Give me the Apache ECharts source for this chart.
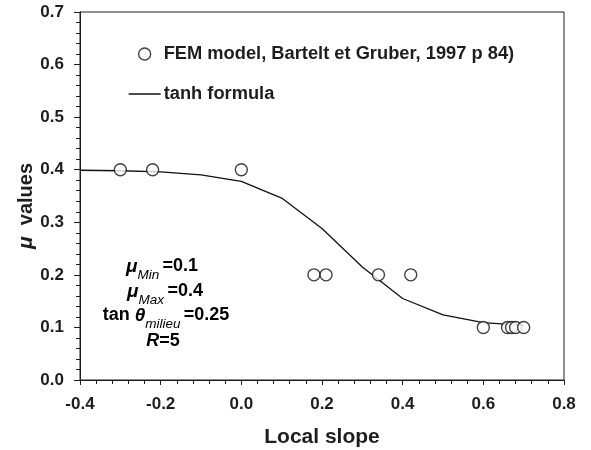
<!DOCTYPE html>
<html>
<head>
<meta charset="utf-8">
<script src="https://cdn.jsdelivr.net/npm/echarts@6/dist/echarts.min.js"></script>
<style>html,body{margin:0;padding:0;background:#fff;}#c{width:591px;height:450px;}</style>
</head>
<body>
<div id="c"></div>
<script>
// Data
var femSlope = [-0.30, -0.22, 0.00, 0.18, 0.21, 0.34, 0.42, 0.60, 0.66, 0.67, 0.68, 0.70];
var femMu    = [0.40, 0.40, 0.40, 0.20, 0.20, 0.20, 0.20, 0.10, 0.10, 0.10, 0.10, 0.10];
var tanhSlope = [-0.4, -0.3, -0.2, -0.1, 0.0, 0.1, 0.2, 0.3, 0.4, 0.5, 0.6, 0.7];
var tanhMu    = [0.399, 0.398, 0.396, 0.390, 0.378, 0.346, 0.288, 0.215, 0.155, 0.124, 0.109, 0.104];
var xTicks = [-0.4, -0.2, 0.0, 0.2, 0.4, 0.6, 0.8];
var yTicks = [0.0, 0.1, 0.2, 0.3, 0.4, 0.5, 0.6, 0.7];
var seriesNames = ['FEM model, Bartelt et Gruber, 1997 p 84)', 'tanh formula'];

var FONT = '"Liberation Sans", Arial, Helvetica, sans-serif';
var INK = '#1e1e1e';

function zip(a, b) { return a.map(function (v, i) { return [v, b[i]]; }); }

var chart = echarts.init(document.getElementById('c'), null, { renderer: 'canvas' });

var rich = {
  m: { fontFamily: FONT, fontWeight: 'bold', fontStyle: 'italic', fontSize: 19, color: INK, lineHeight: 22, verticalAlign: 'top' },
  s: { fontFamily: FONT, fontStyle: 'italic', fontSize: 13.5, color: INK, lineHeight: 25, verticalAlign: 'bottom' },
  b: { fontFamily: FONT, fontWeight: 'bold', fontSize: 18, color: INK, lineHeight: 22, verticalAlign: 'top' },
  bi: { fontFamily: FONT, fontWeight: 'bold', fontStyle: 'italic', fontSize: 18, color: INK, lineHeight: 22, verticalAlign: 'top' }
};
var lines = [
  ['{m|μ}{s|Min} {b|=0.1}', 162, 257],
  ['{m|μ}{s|Max} {b|=0.4}', 165, 282],
  ['{b|tan }{m|θ}{s|milieu} {b|=0.25}', 166, 306],
  ['{bi|R}{b|=5}', 163, 332]
];

chart.setOption({
  backgroundColor: '#fff',
  animation: false,
  textStyle: { fontFamily: FONT },
  grid: {
    left: 80, right: 27, top: 12, bottom: 70,
    containLabel: false, outerBoundsMode: 'none',
    show: true, borderColor: INK, borderWidth: 1, backgroundColor: 'transparent'
  },
  legend: {
    orient: 'vertical',
    left: 123,
    top: 40,
    itemWidth: 32,
    itemHeight: 12,
    itemGap: 22,
    data: [
      { name: seriesNames[0], icon: 'circle', itemStyle: { color: '#fff', borderColor: '#111', borderWidth: 1.4 } },
      { name: seriesNames[1], itemStyle: { opacity: 0 }, lineStyle: { color: '#111', width: 1.3, opacity: 1 } }
    ],
    textStyle: { fontFamily: FONT, fontWeight: 'bold', fontSize: 18.3, color: INK, padding: [0, 0, 0, -2] }
  },
  xAxis: {
    type: 'value',
    min: -0.4, max: 0.8, interval: 0.2,
    name: 'Local slope',
    nameLocation: 'middle',
    nameGap: 47,
    nameMoveOverlap: false,
    nameTextStyle: { fontFamily: FONT, fontWeight: 'bold', fontSize: 21, color: INK },
    axisLine: { onZero: false, lineStyle: { color: INK, width: 1 } },
    axisTick: { show: true, inside: false, length: 5, lineStyle: { color: INK } },
    minorTick: { show: true, splitNumber: 5, length: 4, lineStyle: { color: INK } },
    splitLine: { show: false },
    axisLabel: {
      margin: 16,
      fontFamily: FONT, fontWeight: 'bold', fontSize: 17, color: INK,
      formatter: function (v) { return v.toFixed(1); }
    }
  },
  yAxis: {
    type: 'value',
    min: 0, max: 0.7, interval: 0.1,
    name: '{mu|μ}  values',
    nameLocation: 'middle',
    nameGap: 43,
    nameMoveOverlap: false,
    nameRotate: 90,
    nameTextStyle: {
      fontFamily: FONT, fontWeight: 'bold', fontSize: 20, color: INK,
      padding: [0, 20, 0, 0],
      rich: { mu: { fontFamily: FONT, fontWeight: 'bold', fontStyle: 'italic', fontSize: 21, color: INK } }
    },
    axisLine: { onZero: false, lineStyle: { color: INK, width: 1 } },
    axisTick: { show: true, inside: false, length: 6, lineStyle: { color: INK } },
    minorTick: { show: true, splitNumber: 5, length: 4, lineStyle: { color: INK } },
    splitLine: { show: false },
    axisLabel: {
      margin: 16,
      fontFamily: FONT, fontWeight: 'bold', fontSize: 17, color: INK,
      formatter: function (v) { return v.toFixed(1); }
    }
  },
  graphic: lines.map(function (l) {
    return {
      type: 'text', x: l[1], y: l[2], silent: true,
      style: { text: l[0], rich: rich, align: 'center', verticalAlign: 'top' }
    };
  }),
  series: [
    {
      name: seriesNames[0],
      type: 'scatter',
      data: zip(femSlope, femMu),
      symbol: 'circle',
      symbolSize: 12,
      itemStyle: { color: '#fff', borderColor: '#111', borderWidth: 1.4 },
      z: 3
    },
    {
      name: seriesNames[1],
      type: 'line',
      data: zip(tanhSlope, tanhMu),
      symbol: 'none',
      lineStyle: { color: '#111', width: 1.3 },
      itemStyle: { color: '#111' },
      z: 2
    }
  ]
});
</script>
</body>
</html>
